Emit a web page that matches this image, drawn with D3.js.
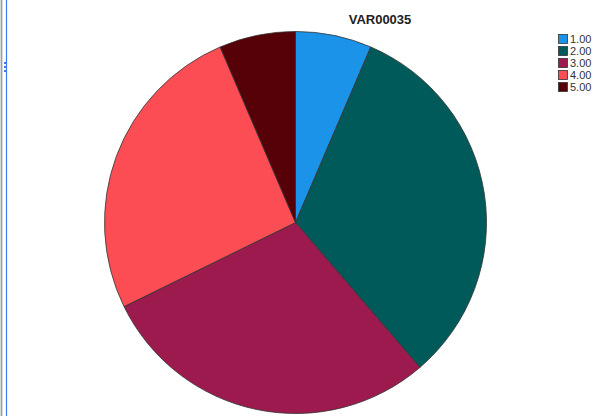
<!DOCTYPE html>
<html><head><meta charset="utf-8">
<script src="https://d3js.org/d3.v7.min.js"></script>
<style>body{margin:0;background:#fff}svg{display:block}</style>
</head><body>
<script>
const categories = ["1.00","2.00","3.00","4.00","5.00"];
const values = [2,10,9,8,2];
const colors = ["#1a93e8","#005a5a","#9c1a4e","#fc4d55","#560008"];
const title = "VAR00035";

const W=595,H=416;
const svg=d3.select("body").append("svg").attr("width",W).attr("height",H);
// left frame decorations
svg.append("rect").attr("x",0).attr("y",0).attr("width",3).attr("height",H).attr("fill","#d8d8d8");
svg.append("line").attr("x1",1.5).attr("x2",1.5).attr("y1",0).attr("y2",H).attr("stroke","#a0a0a0");
svg.append("line").attr("x1",6.5).attr("x2",6.5).attr("y1",0).attr("y2",H).attr("stroke","#3d7cf0").attr("stroke-width",1.2);
[62,66,70].forEach(y=>svg.append("rect").attr("x",4).attr("y",y).attr("width",3).attr("height",2).attr("fill","#3d7cf0"));

const cx=295.5, cy=222.5, r=191;
const pie=d3.pie().sort(null).value(d=>d);
const arc=d3.arc().innerRadius(0).outerRadius(r);
const g=svg.append("g").attr("transform",`translate(${cx},${cy})`);
g.selectAll("path").data(pie(values)).join("path")
 .attr("d",arc).attr("fill",(d,i)=>colors[i])
 .attr("stroke","#333").attr("stroke-width",0.8).attr("stroke-linejoin","round");

svg.append("text").attr("x",380).attr("y",24).attr("text-anchor","middle")
 .attr("font-family","Liberation Sans, Arial, sans-serif").attr("font-weight","bold").attr("font-size",13)
 .attr("fill","#222").text(title);

const lg=svg.append("g").attr("transform","translate(558,34)");
categories.forEach((c,i)=>{
  const row=lg.append("g").attr("transform",`translate(0,${i*12})`);
  row.append("rect").attr("x",0.5).attr("y",0.5).attr("width",9).attr("height",9).attr("fill",colors[i]).attr("stroke","#333").attr("stroke-width",0.8);
  row.append("text").attr("x",12).attr("y",9).attr("font-family","Liberation Sans, Arial, sans-serif").attr("font-size",11).attr("fill","#333").text(c);
});
</script>
</body></html>
